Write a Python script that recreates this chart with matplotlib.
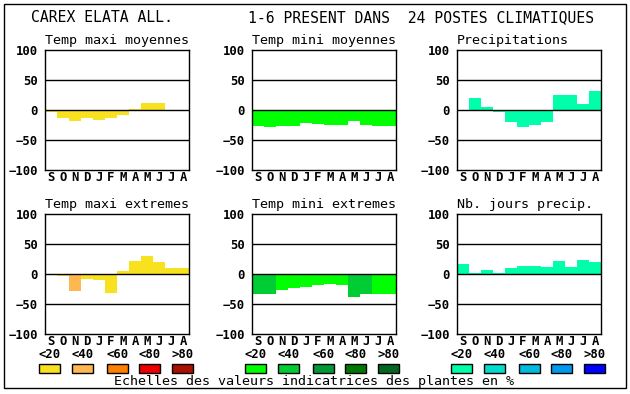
import matplotlib.pyplot as plt
from matplotlib.patches import Rectangle

months = ['S', 'O', 'N', 'D', 'J', 'F', 'M', 'A', 'M', 'J', 'J', 'A']
classes = ['<20', '<40', '<60', '<80', '>80']

# colour scales (one per group of panels)
temp_max_colors = ['#F8E11E', '#FFB850', '#FF7F00', '#EE0000', '#AA1100']
temp_min_colors = ['#00FF00', '#00CC33', '#009933', '#007700', '#006622']
precip_colors = ['#00FFAA', '#00DDCC', '#00BBDD', '#0099EE', '#0000FF']

tmax_moy = [-4, -13, -18, -13, -16, -13, -8, 2, 12, 12, 0, 0]
tmax_moy_cls = [0] * 12
tmin_moy = [-27, -28, -27, -27, -22, -23, -25, -25, -18, -25, -27, -27]
tmin_moy_cls = [0] * 12
precip = [-2, 20, 5, -3, -20, -28, -25, -20, 25, 25, 10, 32]
precip_cls = [0] * 12
tmax_ext = [0, -4, -28, -8, -10, -31, 5, 22, 30, 20, 10, 10]
tmax_ext_cls = [0, 0, 1, 0, 0, 0, 0, 0, 0, 0, 0, 0]
tmin_ext = [-33, -33, -26, -24, -22, -18, -16, -18, -38, -33, -33, -33]
tmin_ext_cls = [1, 1, 0, 0, 0, 0, 0, 0, 1, 1, 0, 0]
nb_jours = [17, 2, 7, 2, 10, 13, 13, 12, 22, 12, 23, 20]
nb_jours_cls = [0] * 12

W, H = 630, 394
fig = plt.figure(figsize=(6.3, 3.94), dpi=100)
mono = 'DejaVu Sans Mono'

# outer frame
fig.patches.append(Rectangle((4 / W, 1 - 388 / H), 622 / W, 384 / H, transform=fig.transFigure,
                             fill=False, edgecolor='black', linewidth=1))

fig.text(31 / W, 1 - 18 / H, 'CAREX ELATA ALL.', family=mono, fontsize=10.6, va='center')
fig.text(248 / W, 1 - 18 / H, '1-6 PRESENT DANS  24 POSTES CLIMATIQUES', family=mono,
         fontsize=10.6, va='center')

panels = [
    ('Temp maxi moyennes', tmax_moy, tmax_moy_cls, temp_max_colors, 45, 50),
    ('Temp mini moyennes', tmin_moy, tmin_moy_cls, temp_min_colors, 252, 50),
    ('Precipitations', precip, precip_cls, precip_colors, 457, 50),
    ('Temp maxi extremes', tmax_ext, tmax_ext_cls, temp_max_colors, 45, 214),
    ('Temp mini extremes', tmin_ext, tmin_ext_cls, temp_min_colors, 252, 214),
    ('Nb. jours precip.', nb_jours, nb_jours_cls, precip_colors, 457, 214),
]

for title, vals, cls, cols, px, py in panels:
    ax = fig.add_axes([px / W, 1 - (py + 120) / H, 144 / W, 120 / H])
    ax.bar(range(12), vals, width=1.0, color=[cols[c] for c in cls], linewidth=0, zorder=1)
    for yv in (-50, 0, 50):
        ax.axhline(yv, color='black', linewidth=1, zorder=2)
    ax.set_xlim(-0.5, 11.5)
    ax.set_ylim(-100, 100)
    ax.set_yticks([-100, -50, 0, 50, 100])
    ax.set_xticks(range(12))
    ax.set_xticklabels(months)
    ax.tick_params(axis='y', length=0, pad=5)
    ax.tick_params(axis='x', length=0, pad=0.5)
    for lab in ax.get_xticklabels() + ax.get_yticklabels():
        lab.set_family(mono)
        lab.set_fontweight('bold')
        lab.set_fontsize(8.8)
    for s in ax.spines.values():
        s.set_linewidth(1)
    ax.set_title(title, loc='left', family=mono, fontsize=9.6, pad=4.5)

# legend boxes
offsets = [0, 33, 68, 100, 133]
for x0, cols in [(39, temp_max_colors), (245, temp_min_colors), (451, precip_colors)]:
    for off, lab, c in zip(offsets, classes, cols):
        fig.patches.append(Rectangle(((x0 + off) / W, 1 - 373 / H), 21 / W, 9 / H,
                                     transform=fig.transFigure, facecolor=c,
                                     edgecolor='black', linewidth=1))
        fig.text((x0 + off + 10.5) / W, 1 - 355 / H, lab, family=mono, fontweight='bold',
                 fontsize=8.8, ha='center', va='center')

fig.text(314 / W, 1 - 382 / H, 'Echelles des valeurs indicatrices des plantes en %',
         family=mono, fontsize=9.6, ha='center', va='center')

fig.savefig('out.png', dpi=100)
